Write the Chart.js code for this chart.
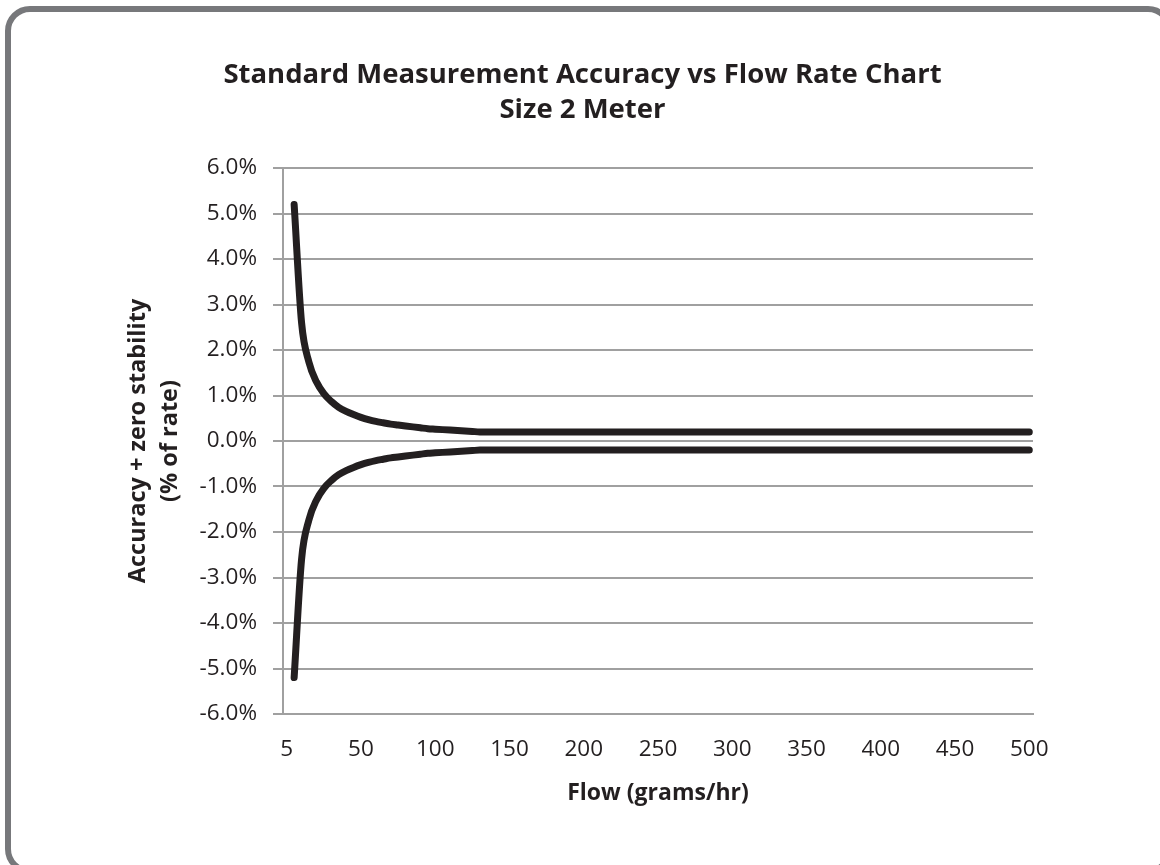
<!DOCTYPE html>
<html>
<head>
<meta charset="utf-8">
<script src="https://cdn.jsdelivr.net/npm/chart.js@4.4.1/dist/chart.umd.min.js"></script>
<style>
  html, body { margin: 0; padding: 0; background: #ffffff; width: 1160px; height: 865px; overflow: hidden; }
  #frame { position: absolute; left: 5px; top: 6px; width: 1168px; height: 868px; box-sizing: border-box;
           border: 6px solid #77787b; border-radius: 25px; }
  #c { position: absolute; left: 0; top: 0; }
</style>
</head>
<body>
<div id="frame"></div>
<canvas id="c" width="1160" height="865"></canvas>
<script>
// Flow (grams/hr) sample points
const flows = [5,10,15,20,25,30,35,40,45,50,55,60,65,70,75,80,85,90,95,100,
  105,110,115,120,125,130,135,140,145,150,155,160,165,170,175,180,185,190,195,200,
  205,210,215,220,225,230,235,240,245,250,255,260,265,270,275,280,285,290,295,300,
  305,310,315,320,325,330,335,340,345,350,355,360,365,370,375,380,385,390,395,400,
  405,410,415,420,425,430,435,440,445,450,455,460,465,470,475,480,485,490,495,500];
// Upper accuracy limit (% of rate)
const upperLimit = [5.2,2.6,1.73,1.3,1.04,0.87,0.74,0.65,0.58,0.52,0.47,0.43,0.4,0.37,0.35,0.33,0.31,0.29,0.27,0.26,
  0.25,0.24,0.23,0.22,0.21,0.2,0.2,0.2,0.2,0.2,0.2,0.2,0.2,0.2,0.2,0.2,0.2,0.2,0.2,0.2,
  0.2,0.2,0.2,0.2,0.2,0.2,0.2,0.2,0.2,0.2,0.2,0.2,0.2,0.2,0.2,0.2,0.2,0.2,0.2,0.2,
  0.2,0.2,0.2,0.2,0.2,0.2,0.2,0.2,0.2,0.2,0.2,0.2,0.2,0.2,0.2,0.2,0.2,0.2,0.2,0.2,
  0.2,0.2,0.2,0.2,0.2,0.2,0.2,0.2,0.2,0.2,0.2,0.2,0.2,0.2,0.2,0.2,0.2,0.2,0.2,0.2];
// Lower accuracy limit (% of rate)
const lowerLimit = [-5.2,-2.6,-1.73,-1.3,-1.04,-0.87,-0.74,-0.65,-0.58,-0.52,-0.47,-0.43,-0.4,-0.37,-0.35,-0.33,-0.31,-0.29,-0.27,-0.26,
  -0.25,-0.24,-0.23,-0.22,-0.21,-0.2,-0.2,-0.2,-0.2,-0.2,-0.2,-0.2,-0.2,-0.2,-0.2,-0.2,-0.2,-0.2,-0.2,-0.2,
  -0.2,-0.2,-0.2,-0.2,-0.2,-0.2,-0.2,-0.2,-0.2,-0.2,-0.2,-0.2,-0.2,-0.2,-0.2,-0.2,-0.2,-0.2,-0.2,-0.2,
  -0.2,-0.2,-0.2,-0.2,-0.2,-0.2,-0.2,-0.2,-0.2,-0.2,-0.2,-0.2,-0.2,-0.2,-0.2,-0.2,-0.2,-0.2,-0.2,-0.2,
  -0.2,-0.2,-0.2,-0.2,-0.2,-0.2,-0.2,-0.2,-0.2,-0.2,-0.2,-0.2,-0.2,-0.2,-0.2,-0.2,-0.2,-0.2,-0.2,-0.2];
// X tick positions and their labels
const xTickValues = [0,50,100,150,200,250,300,350,400,450,500];
const xTickLabels = ['5','50','100','150','200','250','300','350','400','450','500'];
const yTickValues = [-6,-5,-4,-3,-2,-1,0,1,2,3,4,5,6];

const titleLines = ['Standard Measurement Accuracy vs Flow Rate Chart', 'Size 2 Meter'];
const xTitle = 'Flow (grams/hr)';
const yTitle = ['Accuracy + zero stability', '(% of rate)'];

const FONT = "'Open Sans', 'Noto Sans', sans-serif";
const TXT = '#231f20';
const GRID = '#a0a0a0';
const LINE = '#231f20';

const PAD_LEFT = 132;

const upperPts = flows.map((f, i) => ({x: f, y: upperLimit[i]}));
const lowerPts = flows.map((f, i) => ({x: f, y: lowerLimit[i]}));

new Chart(document.getElementById('c'), {
  type: 'line',
  data: {
    datasets: [
      { label: 'Upper', data: upperPts, borderColor: LINE, borderWidth: 7, pointRadius: 0,
        tension: 0.4, cubicInterpolationMode: 'monotone', fill: false, borderCapStyle: 'round', borderJoinStyle: 'round' },
      { label: 'Lower', data: lowerPts, borderColor: LINE, borderWidth: 7, pointRadius: 0,
        tension: 0.4, cubicInterpolationMode: 'monotone', fill: false, borderCapStyle: 'round', borderJoinStyle: 'round' }
    ]
  },
  options: {
    responsive: false,
    animation: false,
    events: [],
    layout: { padding: { left: PAD_LEFT, right: 127, top: 57, bottom: 0 } },
    plugins: {
      legend: { display: false },
      tooltip: { enabled: false },
      title: {
        display: true,
        text: titleLines,
        color: TXT,
        font: { family: FONT, size: 27.5, weight: 'bold', lineHeight: 1.3 },
        padding: { top: 0, bottom: 39.5 }
      }
    },
    scales: {
      x: {
        type: 'linear',
        min: -2.5,
        max: 502.5,
        afterBuildTicks: (s) => { s.ticks = xTickValues.map(v => ({ value: v })); },
        afterFit: (s) => { s.height = 151; },
        ticks: {
          color: TXT,
          font: { family: FONT, size: 22.5 },
          padding: 22,
          maxRotation: 0,
          autoSkip: false,
          callback: (v) => { const i = xTickValues.indexOf(v); return i >= 0 ? xTickLabels[i] : ''; }
        },
        grid: { display: false, drawTicks: false },
        border: { display: true, color: GRID, width: 2 },
        title: {
          display: true,
          text: xTitle,
          color: TXT,
          font: { family: FONT, size: 23, weight: 'bold' },
          padding: { top: 0, bottom: 58 }
        }
      },
      y: {
        type: 'linear',
        min: -6,
        max: 6,
        afterBuildTicks: (s) => { s.ticks = yTickValues.map(v => ({ value: v })); },
        afterFit: (s) => { s.width = 283 - PAD_LEFT; },
        ticks: {
          color: TXT,
          font: { family: FONT, size: 22.5 },
          padding: 16,
          callback: (v) => v.toFixed(1) + '%'
        },
        grid: { color: GRID, lineWidth: 2, tickLength: 10, drawTicks: true, tickColor: GRID },
        border: { display: true, color: GRID, width: 2 },
        title: {
          display: true,
          text: yTitle,
          color: TXT,
          font: { family: FONT, size: 23.5, weight: 'bold', lineHeight: 1.36 },
          padding: { top: -10, bottom: 0 }
        }
      }
    }
  }
});
</script>
</body>
</html>
